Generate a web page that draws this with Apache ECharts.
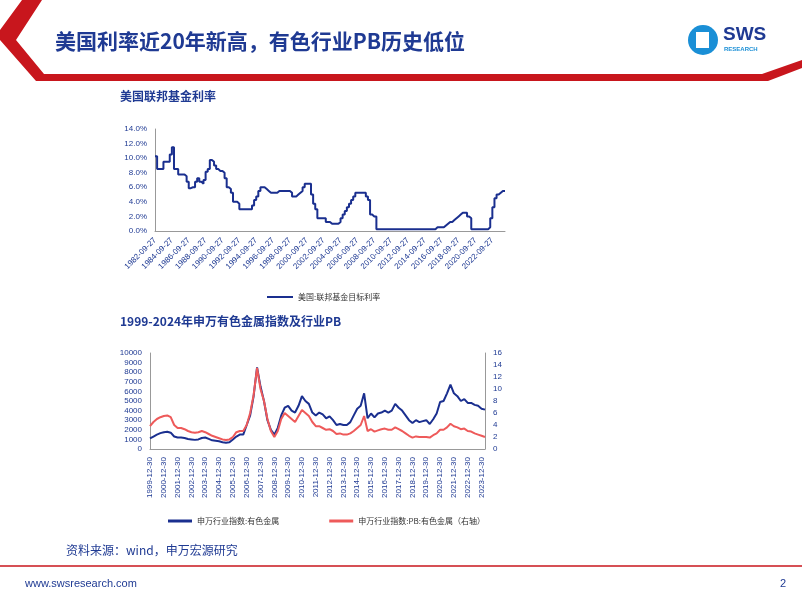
<!DOCTYPE html>
<html><head><meta charset="utf-8">
<script src="https://cdn.jsdelivr.net/npm/echarts@6/dist/echarts.min.js"></script>
<style>html,body{margin:0;padding:0;background:#fff}#c{width:802px;height:602px}</style>
</head><body><div id="c"></div>
<script>
// Fed funds target rate, quarterly from 1982-09 to 2024-03 (%)
const fedRate = [
10.25,8.5,
8.5,8.5,9.5,9.5,
9.5,10.5,11.5,8.5,
8.5,7.75,7.75,7.75,
7.5,6.75,5.875,6.0,
6.0,6.75,7.25,6.75,
6.5,7.0,8.125,8.5,
9.75,9.5,9.0,8.5,
8.25,8.25,8.0,7.25,
6.0,5.75,5.25,4.0,
4.0,3.75,3.0,3.0,
3.0,3.0,3.0,3.0,
3.5,4.25,4.75,5.5,
6.0,6.0,5.75,5.5,
5.25,5.25,5.25,5.25,
5.5,5.5,5.5,5.5,
5.5,5.5,5.25,4.75,
4.75,5.0,5.25,5.5,
6.0,6.5,6.5,6.5,
5.0,3.75,3.0,1.75,
1.75,1.75,1.75,1.25,
1.25,1.0,1.0,1.0,
1.0,1.25,1.75,2.25,
2.75,3.25,3.75,4.25,
4.75,5.25,5.25,5.25,
5.25,5.25,4.75,4.25,
2.25,2.0,2.0,0.25,
0.25,0.25,0.25,0.25,
0.25,0.25,0.25,0.25,
0.25,0.25,0.25,0.25,
0.25,0.25,0.25,0.25,
0.25,0.25,0.25,0.25,
0.25,0.25,0.25,0.25,
0.25,0.25,0.25,0.5,
0.5,0.5,0.5,0.75,
1.0,1.25,1.25,1.5,
1.75,2.0,2.25,2.5,
2.5,2.5,2.0,1.75,
0.25,0.25,0.25,0.25,
0.25,0.25,0.25,0.25,
0.5,1.75,3.25,4.5,
5.0,5.25,5.5,5.5,
5.5
];
const fedDates = [];
{const ms=['03','06','09','12'];let y=1982,q=2;for(let i=0;i<fedRate.length;i++){fedDates.push(y+'-'+ms[q]+'-27');q++;if(q>3){q=0;y++;}}}

// SW non-ferrous metals index and PB, quarterly from 1999-12 to 2024-03
const metalIndex = [
1100,
1300,1500,1650,1750,
1800,1700,1300,1200,
1200,1150,1050,1000,
950,1000,1150,1200,
1050,900,850,800,
700,650,700,1000,
1300,1500,1500,2500,
3500,5500,8500,6500,
5000,3000,2000,1500,
2200,3500,4300,4500,
4000,3800,4500,5500,
5000,4700,3800,3500,
3800,3600,3200,3400,
3000,2500,2600,2500,
2500,2800,3500,4200,
4500,5800,3200,3700,
3300,3700,3800,4000,
3800,4000,4700,4300,
4000,3500,3000,2700,
3000,2800,2900,3000,
2600,3100,3700,4900,
5000,5800,6700,5800,
5500,5000,5200,4800,
4800,4600,4500,4200,
4100
];
const metalPB = [
3.8,
4.5,5.0,5.3,5.5,
5.6,5.3,4.0,3.5,
3.5,3.3,3.0,2.8,
2.7,2.8,3.0,2.8,
2.5,2.2,2.0,1.8,
1.6,1.5,1.6,2.0,
2.8,3.0,3.0,4.0,
6.0,9.0,13.5,10.0,
8.0,5.0,3.0,2.0,
3.0,5.0,6.0,5.5,
5.0,4.5,5.5,6.5,
6.0,5.5,4.5,3.8,
3.8,3.5,3.2,3.3,
3.0,2.5,2.6,2.4,
2.4,2.6,3.0,3.5,
4.0,5.5,3.0,3.3,
2.9,3.1,3.3,3.4,
3.2,3.2,3.6,3.3,
3.0,2.6,2.2,1.9,
2.1,2.0,2.0,2.0,
1.9,2.3,2.6,3.2,
3.2,3.6,4.2,3.8,
3.6,3.3,3.4,3.0,
2.9,2.6,2.4,2.2,
2.0
];
const metalDates = [];
{const ms=['03','06','09','12'];let y=1999,q=3;for(let i=0;i<metalIndex.length;i++){metalDates.push(y+'-'+ms[q]+'-30');q++;if(q>3){q=0;y++;}}}

const F = '"Noto Sans CJK SC","Noto Sans",sans-serif';
const axisCol = '#1f3a93';
const navy = '#1a2f8f';
const chart = echarts.init(document.getElementById('c'));
const axLabel = {color:axisCol,fontSize:8,fontFamily:'Arial'};
chart.setOption({
  animation:false,
  graphic:[
    {type:'polygon',shape:{points:[[22,0],[42,0],[16,40],[44,74],[762,74],[802,60],[802,68],[768,81],[36,81],[0,40],[0,30]]},style:{fill:'#c8161d'}},
    {type:'text',left:55,top:31,style:{text:'美国利率近20年新高，有色行业PB历史低位',font:'bold 21px "Noto Sans CJK SC"',fill:'#1f3a93'}},
    {type:'circle',shape:{cx:703,cy:40,r:15},style:{fill:'#1a8fd6'}},
    {type:'rect',shape:{x:696,y:32,width:13,height:16},style:{fill:'#fff'}},
    {type:'text',left:723,top:25,style:{text:'SWS',font:'bold 19px Arial',fill:'#1f3a93'}},
    {type:'text',left:724,top:46,style:{text:'RESEARCH',font:'bold 6px Arial',fill:'#1a8fd6'}},
    {type:'text',left:120,top:90,style:{text:'美国联邦基金利率',font:'bold 12px '+F,fill:'#1f3a93'}},
    {type:'text',left:120,top:315,style:{text:'1999-2024年申万有色金属指数及行业PB',font:'bold 12px '+F,fill:'#1f3a93'}},
    {type:'text',left:66,top:544,style:{text:'资料来源：wind，申万宏源研究',font:'12px '+F,fill:'#1f3a93'}},
    {type:'line',shape:{x1:0,y1:566,x2:802,y2:566},style:{stroke:'#c8161d',lineWidth:1.5}},
    {type:'text',left:25,top:578,style:{text:'www.swsresearch.com',font:'11px Arial',fill:'#1f3a93'}},
    {type:'text',left:780,top:578,style:{text:'2',font:'11px Arial',fill:'#1f3a93'}}
  ],
  legend:[
    {top:288,left:262,itemWidth:26,itemHeight:2,icon:'rect',textStyle:{fontSize:8,color:'#333',fontFamily:F},data:['美国:联邦基金目标利率']},
    {top:512,left:163,itemGap:50,itemWidth:24,itemHeight:3,icon:'rect',textStyle:{fontSize:8,color:'#333',fontFamily:F},data:['申万行业指数:有色金属','申万行业指数:PB:有色金属（右轴）']}
  ],
  grid:[
    {left:155,width:350,top:129,height:102},
    {left:150,width:335,top:353,height:96}
  ],
  xAxis:[
    {type:'category',gridIndex:0,data:fedDates,boundaryGap:false,axisTick:{show:false},axisLine:{lineStyle:{color:'#999'}},
     axisLabel:Object.assign({rotate:45,interval:7},axLabel)},
    {type:'category',gridIndex:1,data:metalDates,boundaryGap:false,axisTick:{show:false},axisLine:{lineStyle:{color:'#999'}},
     axisLabel:Object.assign({rotate:90,interval:3},axLabel)}
  ],
  yAxis:[
    {type:'value',gridIndex:0,min:0,max:14,interval:2,splitLine:{show:false},axisLine:{show:true,lineStyle:{color:'#999'}},
     axisLabel:Object.assign({formatter:v=>v.toFixed(1)+'%'},axLabel)},
    {type:'value',gridIndex:1,min:0,max:10000,interval:1000,splitLine:{show:false},axisLine:{show:true,lineStyle:{color:'#999'}},axisLabel:Object.assign({formatter:v=>String(v)},axLabel)},
    {type:'value',gridIndex:1,min:0,max:16,interval:2,position:'right',splitLine:{show:false},axisLine:{show:true,lineStyle:{color:'#999'}},axisLabel:axLabel}
  ],
  series:[
    {name:'美国:联邦基金目标利率',type:'line',xAxisIndex:0,yAxisIndex:0,data:fedRate,step:'end',showSymbol:false,lineStyle:{color:navy,width:2},itemStyle:{color:navy}},
    {name:'申万行业指数:有色金属',type:'line',xAxisIndex:1,yAxisIndex:1,data:metalIndex,showSymbol:false,lineStyle:{color:navy,width:2},itemStyle:{color:navy}},
    {name:'申万行业指数:PB:有色金属（右轴）',type:'line',xAxisIndex:1,yAxisIndex:2,data:metalPB,showSymbol:false,lineStyle:{color:'#ee5a5a',width:2},itemStyle:{color:'#ee5a5a'}}
  ]
});
</script></body></html>
